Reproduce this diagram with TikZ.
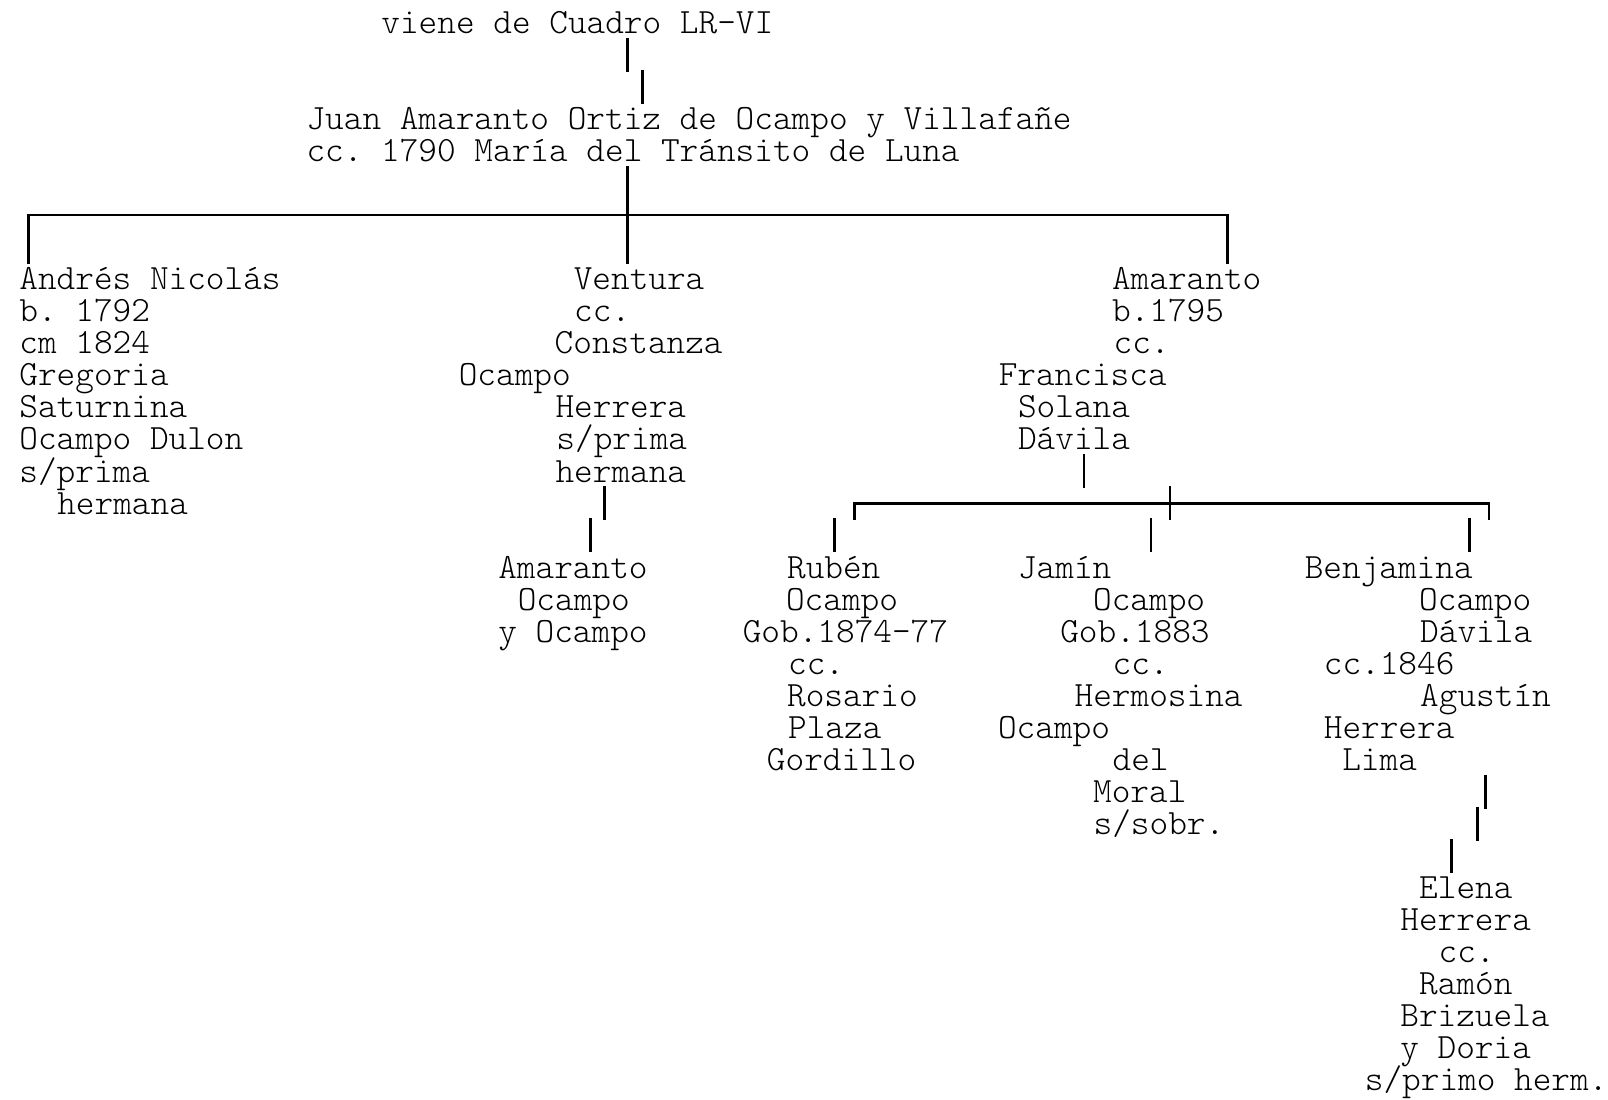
\documentclass[tikz,border=0pt]{standalone}
\usepackage{fontspec}
\setmonofont{lmmonolt10-regular.otf}
\newcommand\tline[4]{\node[txt] (#1) at ({#2-1.5},{32.5+31.25*#3}) {#4};}
\newcommand\vrow[3]{%
  \coordinate (#1t) at (#2,{22+31.25*#3-16.5});
  \coordinate (#1b) at (#2,{22+31.25*#3+16.5});
  \draw[conn] (#1t) -- (#1b);}
\begin{document}
\begin{tikzpicture}[x=0.5pt,y=-0.5pt,
  txt/.style={inner sep=0pt, anchor=base west, font=\ttfamily\fontsize{17.33}{18}\selectfont},
  conn/.style={line width=1.3pt, line join=miter, line cap=butt}]
\useasboundingbox (0,0) rectangle (1568,1071.7);
% top
\tline{t0}{373}{0}{viene de Cuadro LR-VI}
\vrow{ba}{612}{1}
\vrow{bb}{626.3}{2}
\tline{j1}{300}{3}{Juan Amaranto Ortiz de Ocampo y Villafañe}
\tline{j2}{300}{4}{cc. 1790 María del Tránsito de Luna}
% main bracket
\coordinate (cT) at (612,161.75);
\coordinate (cB) at (612,257.25);
\coordinate (hL) at (28,209.5);
\coordinate (hR) at (1197,209.5);
\coordinate (hLd) at (28,257.25);
\coordinate (hRd) at (1197,257.25);
\draw[conn] (hLd) -- (hL) -- (hR) -- (hRd);
\draw[conn] (cT) -- (cB);
% Andres
\tline{a1}{20}{8}{Andrés Nicolás}
\tline{a2}{20}{9}{b. 1792}
\tline{a3}{20}{10}{cm 1824}
\tline{a4}{20}{11}{Gregoria}
\tline{a5}{20}{12}{Saturnina}
\tline{a6}{20}{13}{Ocampo Dulon}
\tline{a7}{20}{14}{s/prima}
\tline{a8}{57}{15}{hermana}
% Ventura
\tline{v1}{560.6}{8}{Ventura}
\tline{v2}{561}{9}{cc.}
\tline{v3}{542}{10}{Constanza}
\tline{v4}{448.5}{11}{Ocampo}
\tline{v5}{542.8}{12}{Herrera}
\tline{v6}{543.7}{13}{s/prima}
\tline{v7}{542.8}{14}{hermana}
\vrow{bv1}{589.5}{15}
\vrow{bv2}{575.8}{16}
\tline{s1}{487}{17}{Amaranto}
\tline{s2}{506}{18}{Ocampo}
\tline{s3}{487}{19}{y Ocampo}
% Amaranto
\tline{m1}{1085.5}{8}{Amaranto}
\tline{m2}{1085.5}{9}{b.1795}
\tline{m3}{1087}{10}{cc.}
\tline{m4}{975}{11}{Francisca}
\tline{m5}{993.8}{12}{Solana}
\tline{m6}{993.8}{13}{Dávila}
\vrow{bm}{1057}{14}
% second bracket
\coordinate (kL) at (833,490.75);
\coordinate (kR) at (1452,490.75);
\coordinate (kLd) at (833,507.25);
\coordinate (kRd) at (1452,507.25);
\coordinate (kT) at (1141,474.25);
\coordinate (kB) at (1141,507.25);
\draw[conn] (kLd) -- (kL) -- (kR) -- (kRd);
\draw[conn] (kT) -- (kB);
\vrow{br}{814}{16}
\vrow{bj}{1122.5}{16}
\vrow{bbj}{1433}{16}
% Ruben
\tline{r1}{768.6}{17}{Rubén}
\tline{r2}{767.6}{18}{Ocampo}
\tline{r3}{725.4}{19}{Gob.1874-77}
\tline{r4}{769.6}{20}{cc.}
\tline{r5}{768.6}{21}{Rosario}
\tline{r6}{769.6}{22}{Plaza}
\tline{r7}{749}{23}{Gordillo}
% Jamin
\tline{ja1}{993.8}{17}{Jamín}
\tline{ja2}{1067}{18}{Ocampo}
\tline{ja3}{1035}{19}{Gob.1883}
\tline{ja4}{1086}{20}{cc.}
\tline{ja5}{1049}{21}{Hermosina}
\tline{ja6}{974.3}{22}{Ocampo}
\tline{ja7}{1086}{23}{del}
\tline{ja8}{1067}{24}{Moral}
\tline{ja9}{1067.5}{25}{s/sobr.}
% Benjamina
\tline{b1}{1273.4}{17}{Benjamina}
\tline{b2}{1385}{18}{Ocampo}
\tline{b3}{1386}{19}{Dávila}
\tline{b4}{1292}{20}{cc.1846}
\tline{b5}{1386}{21}{Agustín}
\tline{b6}{1292}{22}{Herrera}
\tline{b7}{1310}{23}{Lima}
\vrow{be1}{1448.5}{24}
\vrow{be2}{1441}{25}
\vrow{be3}{1415.5}{26}
% Elena
\tline{e1}{1385}{27}{Elena}
\tline{e2}{1366.6}{28}{Herrera}
\tline{e3}{1404}{29}{cc.}
\tline{e4}{1385}{30}{Ramón}
\tline{e5}{1366.6}{31}{Brizuela}
\tline{e6}{1366.6}{32}{y Doria}
\tline{e7}{1332}{33}{s/primo herm.}
\end{tikzpicture}
\end{document}
